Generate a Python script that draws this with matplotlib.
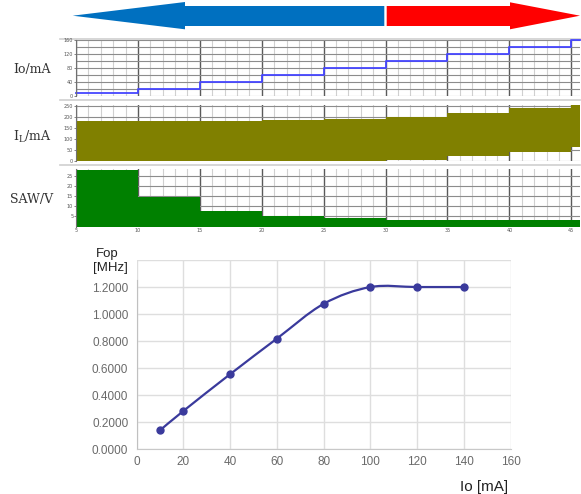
import matplotlib
matplotlib.use('Agg')
import matplotlib.pyplot as plt
import numpy as np
from matplotlib.path import Path
from matplotlib.patches import PathPatch, Polygon

# step signals (top three panels), one value per interval
step_edges = [5, 10, 15, 20, 25, 30, 35, 40, 45, 45.7]
io_ma = [10, 20, 40, 60, 80, 100, 120, 140, 160]
il_hi = [182, 183, 184, 186, 190, 200, 220, 240, 258]
il_lo = [0, 0, 0, 0, 0, 3, 25, 42, 65]
saw_v = [28.2, 14.5, 7.5, 5.3, 4.2, 3.4, 3.4, 3.4, 3.4]
time_ticks = [5, 10, 15, 20, 25, 30, 35, 40, 45]

# Fop vs Io
fop_io = [10, 20, 40, 60, 80, 100, 120, 140]
fop_mhz = [0.141, 0.284, 0.556, 0.819, 1.076, 1.2, 1.2, 1.2]

W, H = 581, 494
fig = plt.figure(figsize=(W / 100, H / 100), dpi=100)


def ax_px(left, top, right, bottom):
    return fig.add_axes([left / W, 1 - bottom / H, (right - left) / W, (bottom - top) / H])


def step_vals(v):
    return list(v) + [v[-1]]


def style_top(ax, yticks, ygrid, ylim):
    ax.set_xlim(5, 45.7)
    ax.set_ylim(*ylim)
    ax.set_xticks(time_ticks)
    ax.set_xticks(np.arange(5, 46, 1), minor=True)
    ax.set_yticks(yticks)
    ax.set_yticks(ygrid, minor=True)
    ax.grid(which='minor', axis='x', color='#d0d0d0', lw=0.8)
    ax.grid(which='major', axis='x', color='#5a5a5a', lw=1.0)
    ax.grid(which='both', axis='y', color='#8c8c8c', lw=0.8)
    ax.set_axisbelow(True)
    for s in ['top', 'right', 'bottom']:
        ax.spines[s].set_visible(False)
    ax.spines['left'].set_color('#707070')
    ax.spines['left'].set_linewidth(0.8)
    ax.tick_params(axis='y', which='major', labelsize=3.5, length=1.5, pad=0.5,
                   colors='#555555', width=0.5)
    ax.tick_params(axis='y', which='minor', length=0)
    ax.tick_params(axis='x', which='both', length=0, labelsize=3.5, colors='#555555', pad=1)


# Io panel
ax1 = ax_px(76, 40, 580, 96)
ax1.step(step_edges, step_vals(io_ma), where='post', color='#4646ff', lw=1.3, clip_on=False)
style_top(ax1, [0, 40, 80, 120, 160], np.arange(0, 161, 20), (0, 160))
ax1.set_xticklabels([])

# IL panel
ax2 = ax_px(76, 105, 580, 161)
ax2.fill_between(step_edges, step_vals(il_lo), step_vals(il_hi), step='post',
                 color='#808000', lw=0)
style_top(ax2, [0, 50, 100, 150, 200, 250], np.arange(0, 251, 50), (0, 255))
ax2.set_xticklabels([])

# SAW panel
ax3 = ax_px(76, 169, 580, 226.5)
ax3.fill_between(step_edges, 0, step_vals(saw_v), step='post', color='#008000', lw=0)
style_top(ax3, [5, 10, 15, 20, 25], np.arange(0, 26, 5), (0, 28.5))

lab = dict(family='DejaVu Serif', fontsize=9, color='#333333', ha='center', va='center')
fig.text(32 / W, 1 - 69 / H, 'Io/mA', **lab)
fig.text(32 / W, 1 - 137 / H, r'I$\mathregular{_L}$/mA', **lab)
fig.text(32 / W, 1 - 199 / H, 'SAW/V', **lab)

# decoration overlay: arrows and separators
deco = fig.add_axes([0, 0, 1, 1], zorder=-1)
deco.set_xlim(0, W)
deco.set_ylim(H, 0)
deco.axis('off')
blue = [(72.7, 15.7), (185, 2), (185, 6), (384.3, 6), (384.3, 26), (185, 26), (185, 29.3)]
red = [(386.7, 6), (510, 6), (510, 2.3), (580, 15.7), (510, 29.3), (510, 26), (386.7, 26)]
deco.add_patch(Polygon(blue, closed=True, fc='#0070c0', ec='none'))
deco.add_patch(Polygon(red, closed=True, fc='#ff0000', ec='none'))
for yy in [39, 100.5, 165.5]:
    deco.plot([60, 580], [yy, yy], color='#cfcfcf', lw=1.2)

# Fop chart
ax4 = ax_px(136.7, 260, 510.7, 449.3)
ax4.set_xlim(0, 160)
ax4.set_ylim(0, 1.4)
ax4.set_xticks(np.arange(0, 161, 20))
ax4.set_yticks(np.arange(0, 1.41, 0.2))
ax4.set_yticklabels(['%.4f' % v for v in np.arange(0, 1.21, 0.2)] + [''])
ax4.grid(True, color='#dedede', lw=1.0)
ax4.set_axisbelow(True)
for s in ['top', 'right']:
    ax4.spines[s].set_visible(False)
ax4.spines['bottom'].set_color('#c8c8c8')
ax4.spines['left'].set_color('#c0c0c0')
ax4.spines['left'].set_bounds(0, 1.25)
ax4.tick_params(length=0, labelsize=8.5, colors='#6a6a6a')
ax4.tick_params(axis='y', pad=6)
ax4.tick_params(axis='x', pad=5)
for t in ax4.get_xticklabels() + ax4.get_yticklabels():
    t.set_family('Liberation Sans')

# smooth curve through the points (Catmull-Rom -> cubic Bezier)
pts = np.column_stack([fop_io, fop_mhz])
ext = np.vstack([pts[0], pts, pts[-1]])
verts = [tuple(pts[0])]
codes = [Path.MOVETO]
for i in range(len(pts) - 1):
    p0, p1, p2, p3 = ext[i], ext[i + 1], ext[i + 2], ext[i + 3]
    c1 = p1 + (p2 - p0) / 6
    c2 = p2 - (p3 - p1) / 6
    verts += [tuple(c1), tuple(c2), tuple(p2)]
    codes += [Path.CURVE4] * 3
ax4.add_patch(PathPatch(Path(verts, codes), fc='none', ec='#3a3a9c', lw=1.6))
ax4.plot(fop_io, fop_mhz, 'o', color='#3a3a9c', ms=5, ls='none')

txt = dict(family='Liberation Sans', color='#222222', ha='center', va='center')
fig.text(107 / W, 1 - 254 / H, 'Fop', fontsize=9.5, **txt)
fig.text(110 / W, 1 - 268 / H, '[MHz]', fontsize=9.5, **txt)
fig.text(484 / W, 1 - 487 / H, 'Io [mA]', fontsize=11, **txt)

fig.savefig('out.png', dpi=100)
